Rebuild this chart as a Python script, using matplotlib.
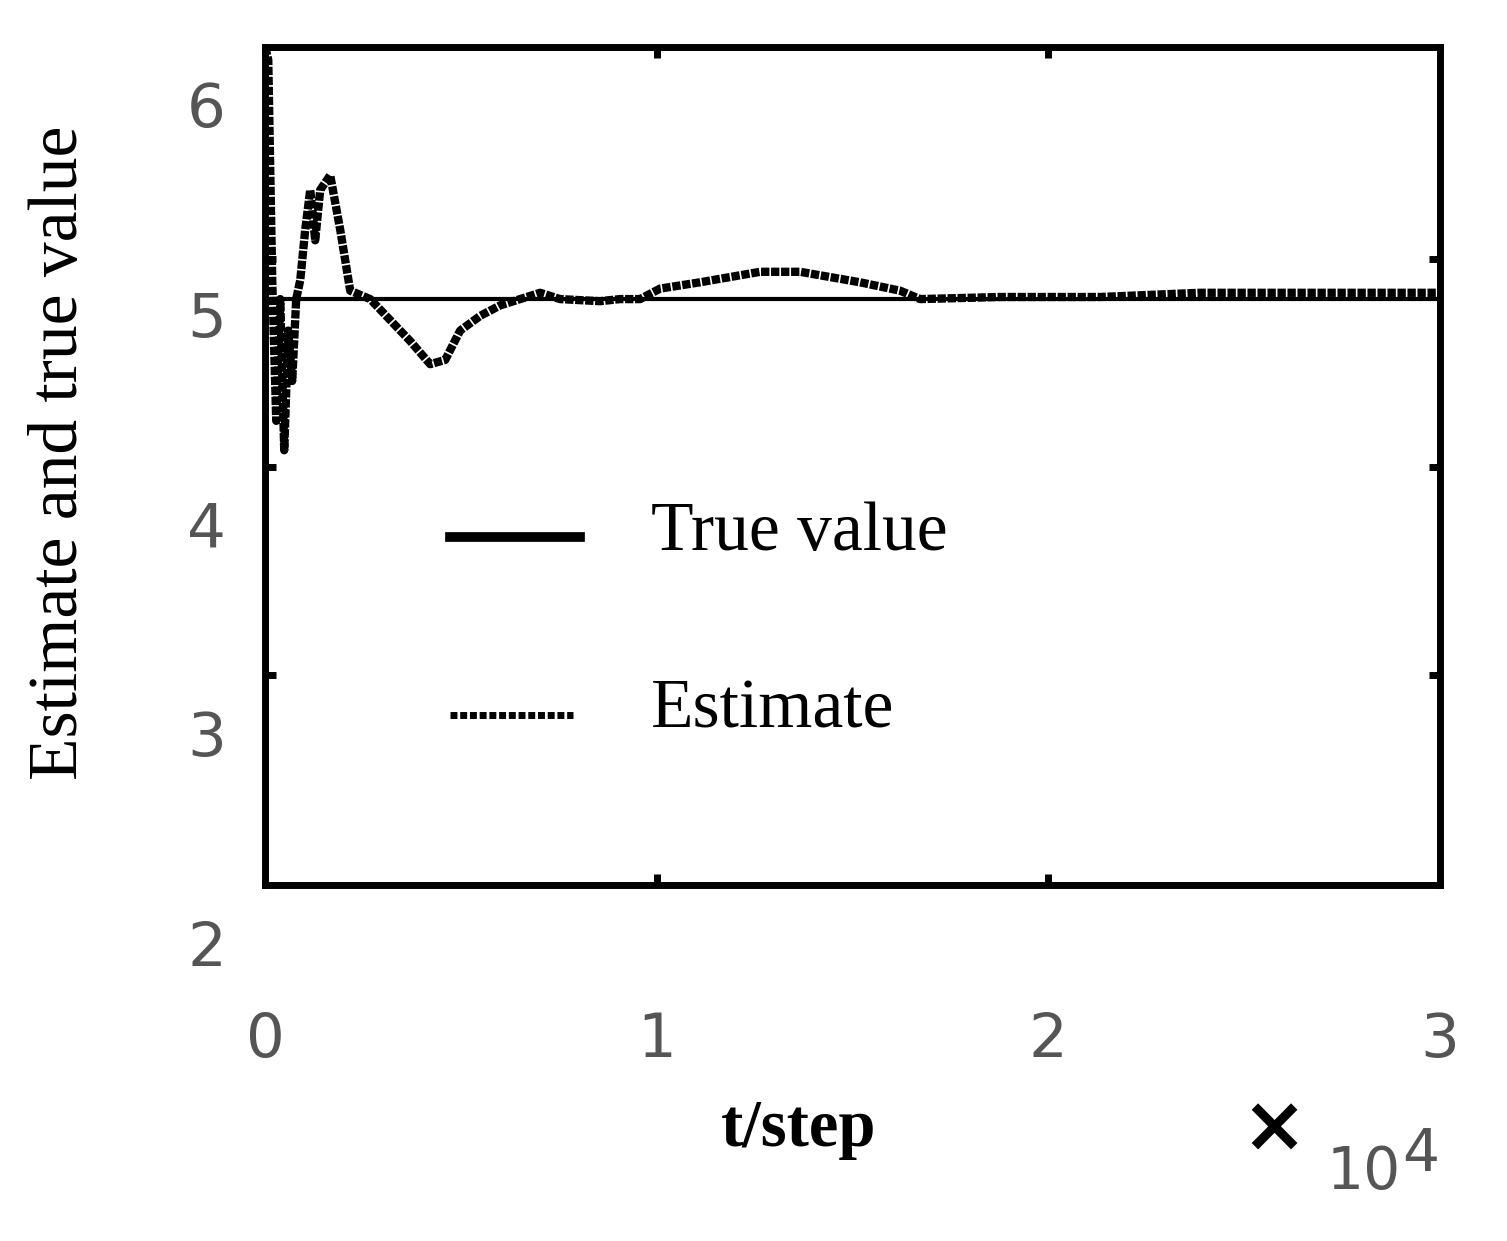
import matplotlib
matplotlib.use("Agg")
import matplotlib.pyplot as plt
from matplotlib.lines import Line2D

t = [0, 77, 179, 281, 383, 485, 587, 689, 791, 894, 1021, 1149, 1276, 1404, 1659, 1915, 2170, 2681, 3191,
     3702, 4212, 4595, 4978, 5489, 5999, 7020, 7531, 8552, 9063, 9574, 10084, 11105, 12637, 13659,
     15190, 16212, 16723, 18765, 21318, 23871, 26424, 30000]
est = [6.3, 6.24, 5.19, 4.52, 5.10, 4.38, 4.95, 4.71, 5.10, 5.19, 5.43, 5.62, 5.38, 5.62, 5.69, 5.43, 5.14,
       5.10, 5.00, 4.90, 4.79, 4.81, 4.95, 5.02, 5.07, 5.13, 5.10, 5.09, 5.10, 5.10, 5.15, 5.18, 5.23,
       5.23, 5.18, 5.14, 5.10, 5.11, 5.11, 5.13, 5.13, 5.13]
true_value = 5.1
ylabels = [6, 5, 4, 3, 2]
xlabels = [0, 1, 2, 3]

fig = plt.figure(figsize=(15.07, 12.41), dpi=100)
ax = fig.add_axes([0.176, 0.287, 0.7795, 0.675])
ax.plot(t, est, color="black", lw=6, ls=(0, (1, 0.2)))
ax.axhline(true_value, color="black", lw=3)
ax.set_xlim(0, 30000)
ax.set_ylim(2.31, 6.3)
for s in ax.spines.values():
    s.set_linewidth(5)
ax.set_xticks([10000, 20000])
ax.set_yticks([5.29, 4.30, 3.31])
ax.tick_params(direction="in", length=8, width=5, labelleft=False, labelbottom=False,
               top=True, right=True)
tk = dict(fontsize=44, color="#555555", family="DejaVu Sans", clip_on=False)
for v in ylabels:
    ax.text(-1500, v, str(v), ha="center", va="center", **tk)
for v in xlabels:
    ax.text(v * 10000, 1.57, str(v), ha="center", va="center", **tk)
fig.text(0.04, 0.635, "Estimate and true value", rotation=90, ha="center", va="center",
         fontsize=50, family="Liberation Serif")
fig.text(0.53, 0.09, "t/step", ha="center", va="center", fontsize=48, weight="bold",
         family="Liberation Serif")
fig.text(0.845, 0.09, "×", ha="center", va="center", fontsize=56, weight="bold")
fig.text(0.905, 0.055, "10", ha="center", va="center", fontsize=42, color="#555555")
fig.text(0.943, 0.07, "4", ha="center", va="center", fontsize=42, color="#555555")

ax.add_line(Line2D([0.157, 0.268], [0.415, 0.415], transform=ax.transAxes, color="black", lw=7))
ax.add_line(Line2D([0.157, 0.262], [0.203, 0.203], transform=ax.transAxes, color="black", lw=5,
                   ls=(0, (1, 0.4))))
ax.text(0.328, 0.42, "True value", transform=ax.transAxes, fontsize=50, va="center",
        family="Liberation Serif")
ax.text(0.328, 0.208, "Estimate", transform=ax.transAxes, fontsize=50, va="center",
        family="Liberation Serif")
fig.savefig("out.png", dpi=100)
